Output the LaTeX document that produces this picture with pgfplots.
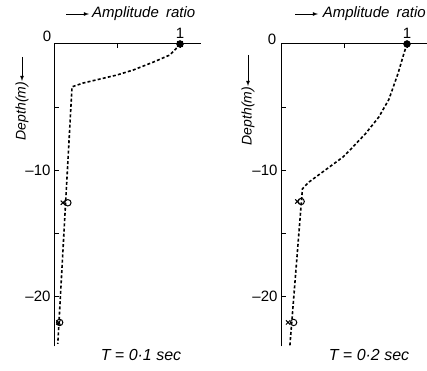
\documentclass[border=0pt]{standalone}
\usepackage{fontspec}
\setmainfont{Liberation Sans}
\usepackage{pgfplots}
\pgfplotsset{compat=1.18}
\pgfplotsset{
  prof/.style={
    x=126pt, y=12.6pt,
    xmin=0, xmax=1.17, ymin=-24, ymax=0,
    axis x line=top, axis y line=left,
    axis line style={-, line width=1pt},
    xtick={0.5,1}, xticklabels={,1},
    ytick={-5,-10,-15,-20}, yticklabels={,{\textendash10},,{\textendash20}},
    tick align=inside, major tick length=4.5pt,
    tick style={black, line width=1pt},
    tick label style={font=\fontsize{15}{17}\selectfont},
    xticklabel style={yshift=2pt},
    clip=false,
    anchor=north west,
  },
  crv/.style={black, line width=1.6pt, dash pattern=on 3pt off 2.2pt, no marks},
  xm/.style={only marks, mark=x, mark size=3pt, black, mark options={line width=1pt}},
  om/.style={only marks, mark=o, mark size=3.2pt, black, mark options={line width=1pt}},
  fm/.style={only marks, mark=*, mark size=3.5pt, black, mark options={fill=black}},
}
\begin{document}
\begin{tikzpicture}
\useasboundingbox (0pt,0pt) rectangle (427pt,370pt);
% ---------------- Left panel: T = 0.1 sec
\begin{axis}[prof, at={(54pt,326pt)}]
\addplot[crv] coordinates {
 (1,0) (0.97,-0.35) (0.92,-0.87) (0.79,-1.43) (0.63,-2.06) (0.5,-2.46)
 (0.365,-2.78) (0.23,-3.1) (0.143,-3.4) (0.03,-23.8)};
\addplot[fm] coordinates {(1,0)};
\addplot[xm, mark size=4pt] coordinates {(1,0)};
\addplot[xm] coordinates {(0.07,-12.6) (0.035,-22.1)};
\addplot[om] coordinates {(0.11,-12.6) (0.045,-22.1)};
\end{axis}
% ---------------- Right panel: T = 0.2 sec
\begin{axis}[prof, at={(281pt,326pt)}]
\addplot[crv] coordinates {
 (1,0) (0.976,-0.73) (0.93,-2.3) (0.856,-4.4) (0.776,-5.8) (0.672,-7.1)
 (0.568,-8.2) (0.488,-9.0) (0.352,-10) (0.216,-11.0) (0.17,-11.5) (0.07,-24)};
\addplot[fm] coordinates {(1,0)};
\addplot[xm] coordinates {(0.13,-12.5) (0.056,-22.1)};
\addplot[om] coordinates {(0.16,-12.5) (0.10,-22.1)};
\end{axis}
% ---------------- texts
\begin{scope}[font=\fontsize{15}{17}\selectfont\itshape]
\draw[-latex, line width=0.8pt] (66pt,356pt) -- (89pt,356pt);
\node[anchor=west, inner sep=0pt] at (92pt,356pt) {Amplitude\hspace{3pt} ratio};
\draw[-latex, line width=0.8pt] (295pt,356pt) -- (318pt,356pt);
\node[anchor=east, inner sep=0pt] at (426pt,356pt) {Amplitude\hspace{3pt} ratio};
\end{scope}
\begin{scope}[font=\fontsize{16}{18}\selectfont\itshape]
\node[inner sep=0pt] at (141pt,15pt) {T = 0·1 sec};
\node[inner sep=0pt] at (369pt,15pt) {T = 0·2 sec};
\end{scope}
\begin{scope}[font=\fontsize{14}{16}\selectfont\itshape]
\draw[-latex, line width=0.8pt] (22pt,313pt) -- (22pt,289pt);
\node[rotate=90, inner sep=0pt] at (22pt,259pt) {Depth(m)};
\draw[-latex, line width=0.8pt] (248pt,315pt) -- (248pt,284pt);
\node[rotate=90, inner sep=0pt] at (248pt,254pt) {Depth(m)};
\end{scope}
\node[font=\fontsize{15}{17}\selectfont, inner sep=0pt] at (47pt,334pt) {0};
\node[font=\fontsize{15}{17}\selectfont, inner sep=0pt] at (272pt,331pt) {0};
\end{tikzpicture}
\end{document}
